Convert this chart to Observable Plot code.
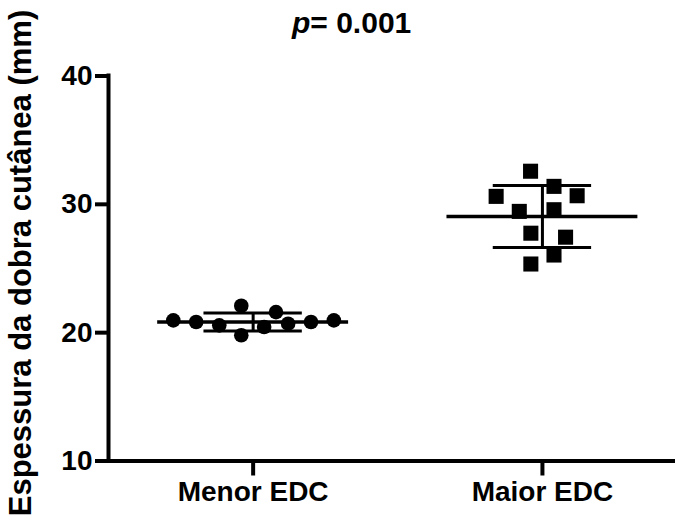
<!DOCTYPE html>
<html>
<head>
<meta charset="utf-8">
<script src="https://cdn.jsdelivr.net/npm/d3@7"></script>
<script src="https://cdn.jsdelivr.net/npm/@observablehq/plot@0.6"></script>
<style>
  body { margin: 0; background: #fff; }
  #wrap { width: 675px; height: 524px; position: relative; font-family: "Liberation Sans", Arial, sans-serif; }
  #title { position: absolute; left: 292px; top: 8px; font-size: 30px; font-weight: bold; color: #000; line-height: 1; z-index: 1; }
  svg { display: block; }
</style>
</head>
<body>
<div id="wrap">
  <div id="title"><i>p</i>= 0.001</div>
</div>
<script>
// Categories
const categories = ["Menor EDC", "Maior EDC"];
// Individual values (mm)
const menorValues = [20.96, 20.83, 20.57, 22.1, 19.8, 20.44, 21.6, 20.7, 20.83, 20.96];
const maiorValues = [32.58, 31.4, 30.62, 30.67, 29.45, 29.58, 27.75, 27.44, 26.05, 25.35];
// Horizontal scatter of the points within each column (category units)
const menorSpread = [-0.276, -0.197, -0.117, -0.041, -0.041, 0.038, 0.079, 0.121, 0.2, 0.279];
const maiorSpread = [-0.041, 0.04, -0.16, 0.12, -0.08, 0.04, -0.04, 0.08, 0.04, -0.04];
// Mean and SD per group
const means = [20.83, 29.05];
const sds = [0.7, 2.42];
const yTicks = [10, 20, 30, 40];
const yLabel = "Espessura da dobra cutânea (mm)";

const menor = menorValues.map((v, i) => ({g: 1, x: 1 + menorSpread[i], y: v}));
const maior = maiorValues.map((v, i) => ({g: 2, x: 2 + maiorSpread[i], y: v}));
const summary = means.map((m, i) => ({g: i + 1, mean: m, lo: m - sds[i], hi: m + sds[i]}));

const font = "Liberation Sans, Arial, sans-serif";

const chart = Plot.plot({
  width: 675,
  height: 524,
  marginLeft: 108,
  marginRight: 0,
  marginTop: 75.5,
  marginBottom: 63.5,
  style: {fontFamily: font, color: "#000", background: "#fff"},
  x: {domain: [0.5, 2.46]},
  y: {domain: [10, 40]},
  marks: [
    // y axis
    Plot.axisY({ticks: yTicks, tickSize: 13, tickPadding: 3, strokeWidth: 4, fontSize: 28, fontWeight: "bold", label: null}),
    Plot.ruleX([0.5], {y1: 10, y2: 40, strokeWidth: 4, strokeLinecap: "square"}),
    // x axis
    Plot.axisX({ticks: [1, 2], tickFormat: d => categories[d - 1], tickSize: 15, tickPadding: 5, strokeWidth: 4, fontSize: 28, fontWeight: "bold", label: null}),
    Plot.ruleY([10], {strokeWidth: 4}),
    // mean lines
    Plot.ruleY(summary, {y: "mean", x1: d => d.g - 0.33, x2: d => d.g + 0.33, strokeWidth: 3.5}),
    // SD caps
    Plot.ruleY(summary, {y: "lo", x1: d => d.g - 0.17, x2: d => d.g + 0.17, strokeWidth: 3}),
    Plot.ruleY(summary, {y: "hi", x1: d => d.g - 0.17, x2: d => d.g + 0.17, strokeWidth: 3}),
    Plot.ruleX(summary, {x: "g", y1: "lo", y2: "hi", strokeWidth: 3}),
    // points
    Plot.dot(menor, {x: "x", y: "y", r: 7.3, fill: "#000", stroke: "none"}),
    Plot.dot(maior, {x: "x", y: "y", r: 8.5, symbol: "square", fill: "#000", stroke: "none"}),
    // y label
    Plot.text([yLabel], {frameAnchor: "left", textAnchor: "middle", rotate: -90, dx: -87, dy: -5.5, lineAnchor: "middle", fontSize: 31, fontWeight: "bold", fill: "#000"})
  ]
});
document.getElementById("wrap").appendChild(chart);
</script>
</body>
</html>
